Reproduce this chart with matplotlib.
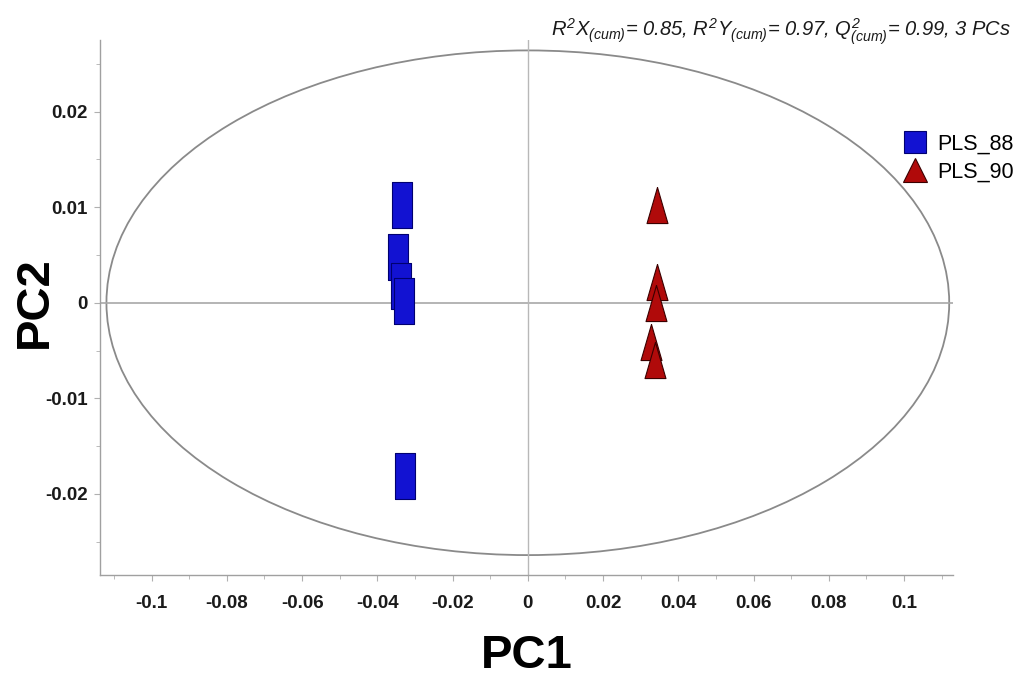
import matplotlib
matplotlib.use("Agg")
import matplotlib.pyplot as plt
from matplotlib.patches import Ellipse
from matplotlib.lines import Line2D
from matplotlib.ticker import MultipleLocator, FuncFormatter

# scores for the two classes
pls88_pc1 = [-0.0335, -0.0345, -0.0337, -0.0329, -0.0327]
pls88_pc2 = [0.0102, 0.0048, 0.0018, 0.0002, -0.0181]
pls90_pc1 = [0.0343, 0.0343, 0.0340, 0.0327, 0.0337]
pls90_pc2 = [0.0102, 0.0022, 0.0000, -0.0041, -0.0060]

group_names = ["PLS_88", "PLS_90"]
model_stats = r"$R^2X_{(cum)}$= 0.85, $R^2Y_{(cum)}$= 0.97, $Q^2_{(cum)}$= 0.99, 3 PCs"

# Hotelling T2 ellipse half axes
t2_pc1 = 0.112
t2_pc2 = 0.0264

x_ticks = [-0.1, -0.08, -0.06, -0.04, -0.02, 0, 0.02, 0.04, 0.06, 0.08, 0.1]
y_ticks = [-0.02, -0.01, 0, 0.01, 0.02]

plt.rcParams["font.family"] = ["Liberation Sans", "DejaVu Sans"]
plt.rcParams["mathtext.fontset"] = "custom"
plt.rcParams["mathtext.rm"] = "Liberation Sans:italic"
plt.rcParams["mathtext.it"] = "Liberation Sans:italic"

blue_face, blue_edge = "#1212d2", "#000070"
red_face, red_edge = "#b00a0a", "#3a0000"

# tall narrow markers
rect_marker = [(-0.22, -0.5), (0.22, -0.5), (0.22, 0.5), (-0.22, 0.5), (-0.22, -0.5)]
tri_marker = [(0, 0.5), (-0.29, -0.5), (0.29, -0.5), (0, 0.5)]

fig = plt.figure(figsize=(10.21, 6.88), dpi=100)
ax = fig.add_axes([0.098, 0.164, 0.835, 0.778])

ax.add_patch(Ellipse((0, 0), 2 * t2_pc1, 2 * t2_pc2, fill=False,
                     edgecolor="#8a8a8a", lw=1.3, zorder=1))
ax.axhline(0, color="#a8a8a8", lw=1.2, zorder=1)
ax.axvline(0, color="#b8b8b8", lw=1.0, zorder=1)

for x, y in zip(pls88_pc1, pls88_pc2):
    ax.plot(x, y, marker=rect_marker, ms=33, mfc=blue_face, mec=blue_edge,
            mew=0.8, ls="none", zorder=3)
for x, y in zip(pls90_pc1, pls90_pc2):
    ax.plot(x, y, marker=tri_marker, ms=26, mfc=red_face, mec=red_edge,
            mew=0.8, ls="none", zorder=3)

ax.set_xlim(-0.1137, 0.1129)
ax.set_ylim(-0.0285, 0.0275)
ax.set_xticks(x_ticks)
ax.set_yticks(y_ticks)
ax.xaxis.set_minor_locator(MultipleLocator(0.01))
ax.yaxis.set_minor_locator(MultipleLocator(0.005))
fmt = FuncFormatter(lambda v, p: "0" if abs(v) < 1e-9 else ("%g" % round(v, 3)))
ax.xaxis.set_major_formatter(fmt)
ax.yaxis.set_major_formatter(fmt)
ax.tick_params(which="both", colors="#b0b0b0", labelcolor="#1a1a1a",
               labelsize=13.5, direction="out")
ax.tick_params(which="major", length=4, width=0.8)
ax.tick_params(axis="x", which="major", pad=10)
ax.tick_params(axis="y", which="major", pad=5)
ax.tick_params(which="minor", length=3, width=0.6)
for lab in ax.get_xticklabels() + ax.get_yticklabels():
    lab.set_fontweight("bold")

for side in ["top", "right"]:
    ax.spines[side].set_visible(False)
for side in ["left", "bottom"]:
    ax.spines[side].set_color("#a0a0a0")
    ax.spines[side].set_linewidth(1.0)

ax.set_xlabel("PC1", fontsize=34, fontweight="bold", labelpad=16)
fig.text(35 / 1021, 1 - 302 / 688, "PC2", rotation=90, ha="center", va="center",
         fontsize=34, fontweight="bold")

fig.text(0.99, 0.947, model_stats, ha="right", va="baseline", fontsize=14.5,
         style="italic", color="#1a1a1a")

handles = [
    Line2D([], [], marker="s", ls="none", ms=16, mfc=blue_face, mec=blue_edge, mew=0.8),
    Line2D([], [], marker="^", ls="none", ms=17, mfc=red_face, mec=red_edge, mew=0.8),
]
fig.legend(handles, group_names, loc="upper left", bbox_to_anchor=(0.884, 0.806),
           frameon=False, fontsize=15.5, handlelength=1.2, handletextpad=0.4,
           labelspacing=0.35, borderpad=0, borderaxespad=0)

fig.savefig("out.png", dpi=100)
